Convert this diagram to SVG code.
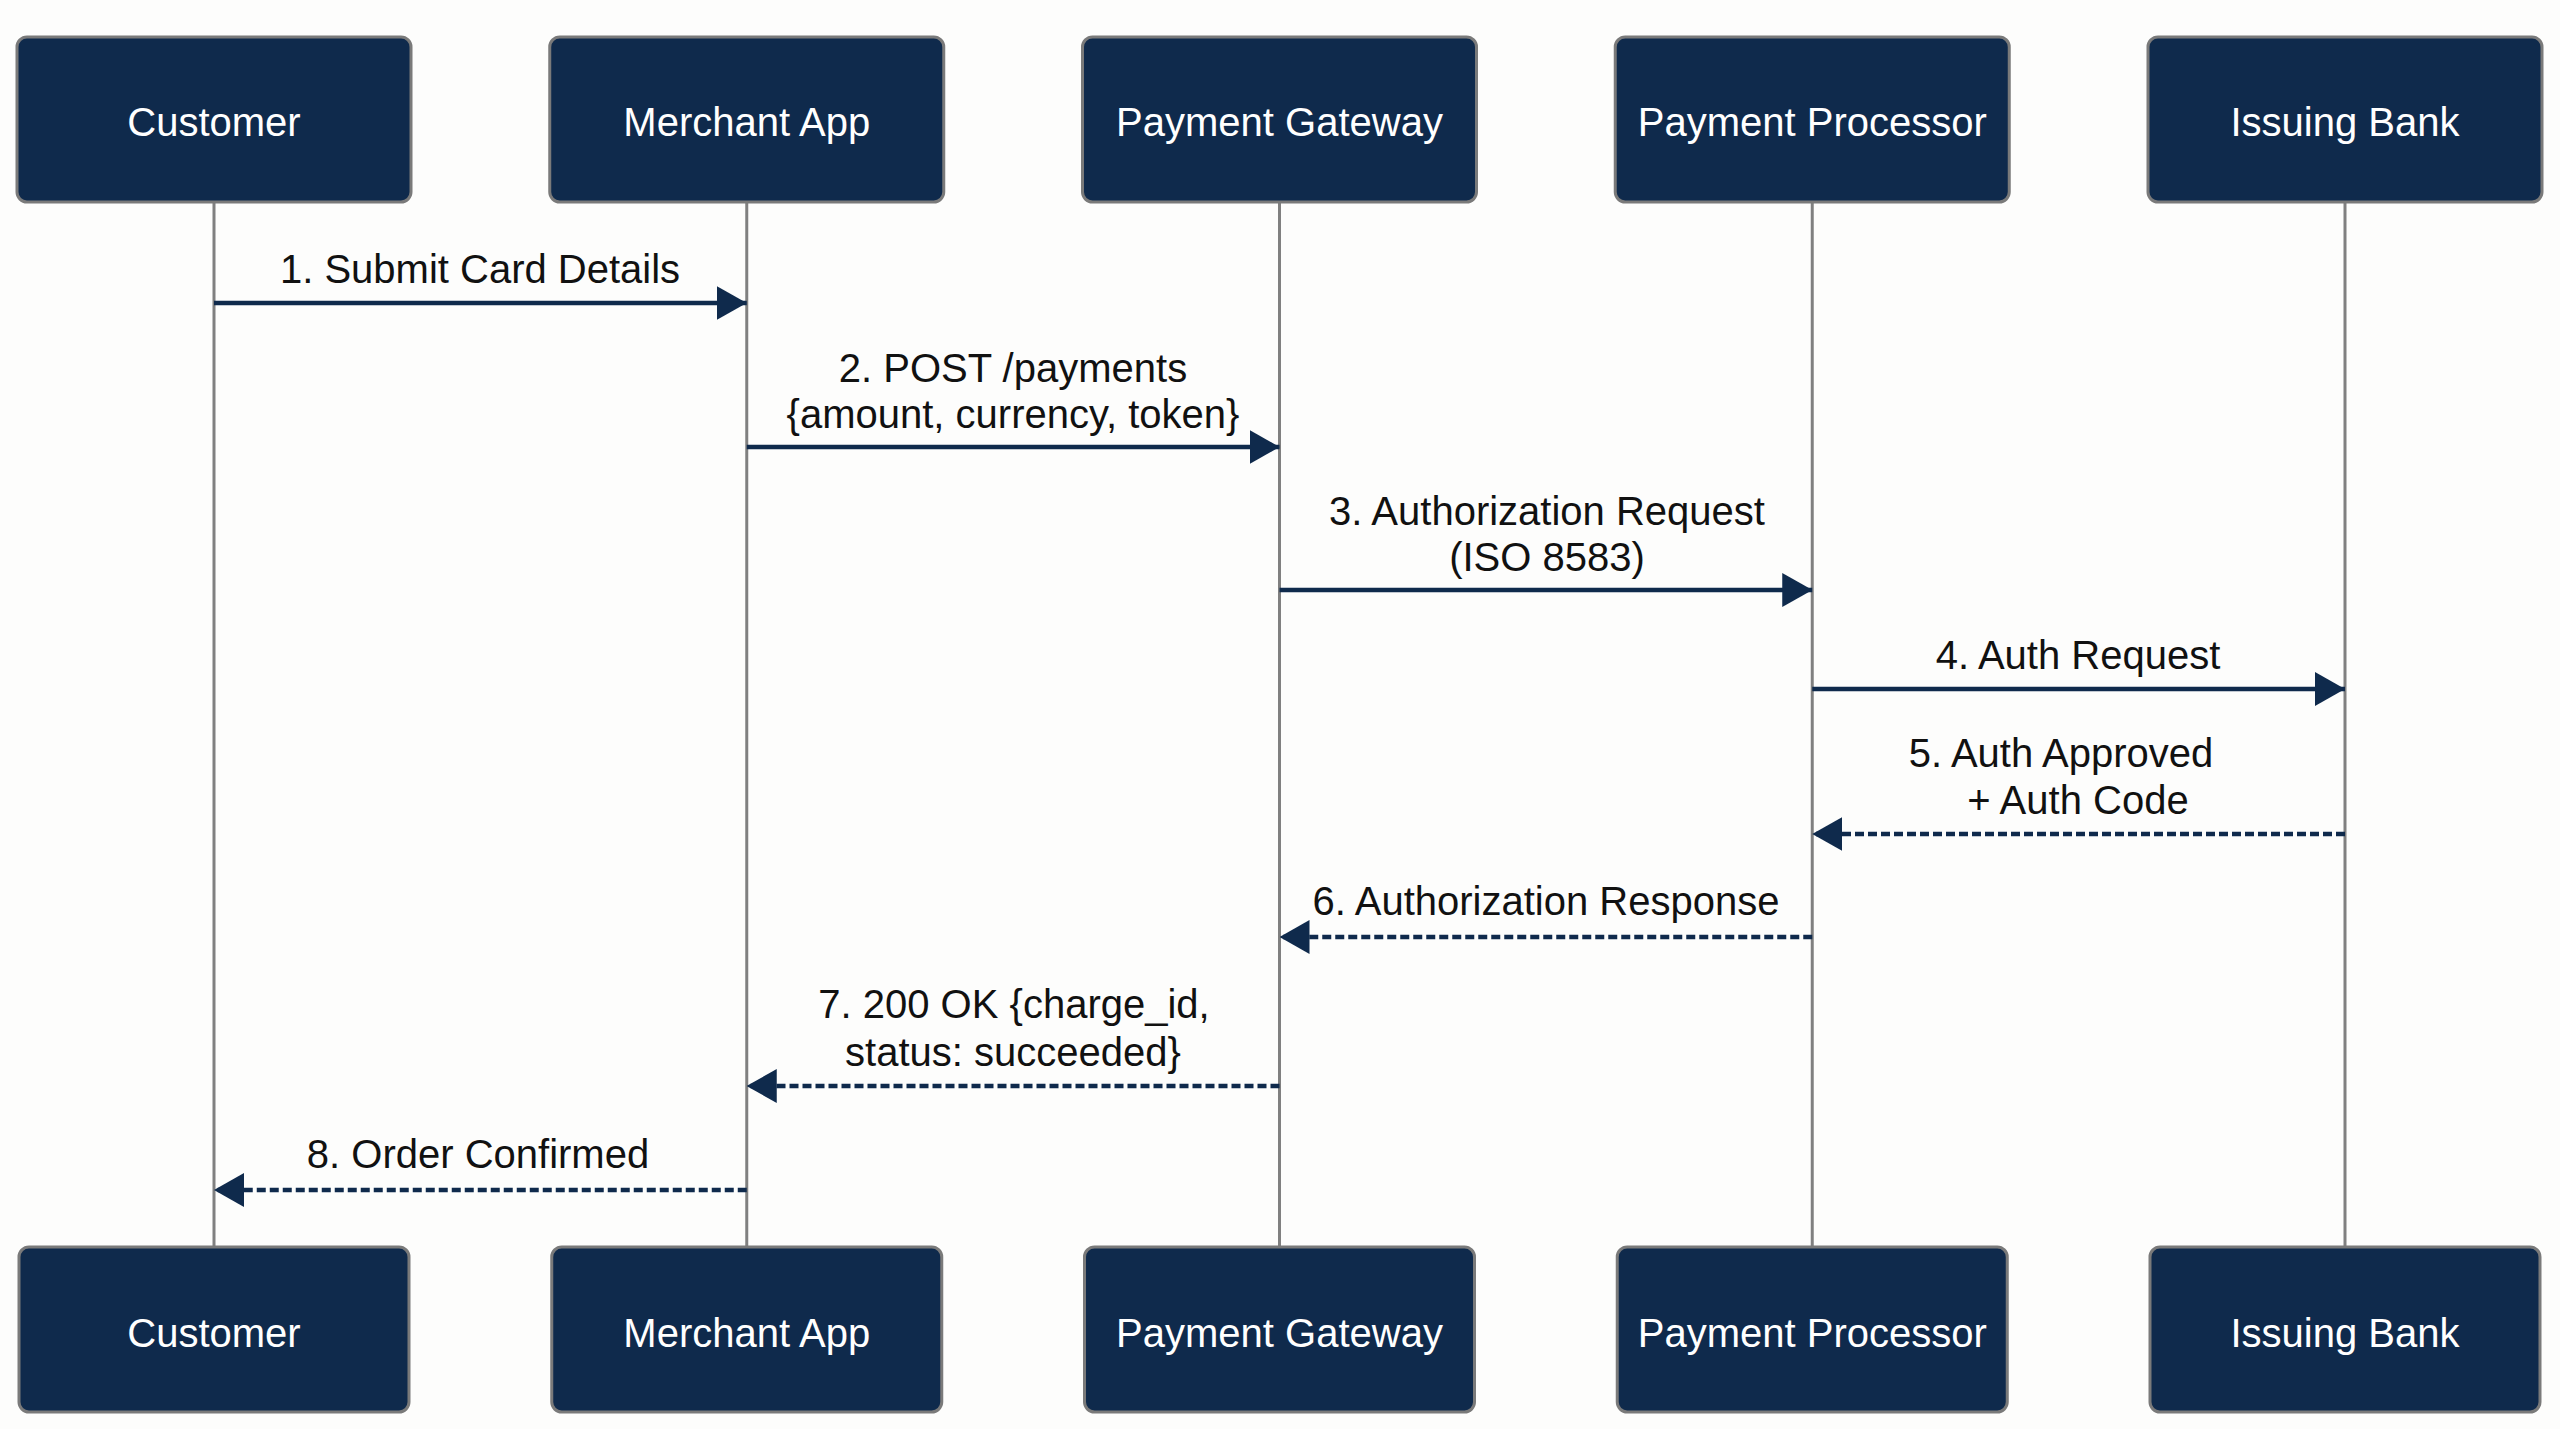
<svg xmlns="http://www.w3.org/2000/svg" width="2560" height="1429" viewBox="0 0 2560 1429">
  <style>
    .box { fill: #0f2a4c; stroke: #7a7a7a; stroke-width: 3; }
    .btxt { fill: #ffffff; font-family: "Liberation Sans", Arial, sans-serif; font-size: 40px; text-anchor: middle; }
    .life { stroke: #808080; stroke-width: 3; fill: none; }
    .msg { stroke: #0f2a4c; stroke-width: 4.5; fill: none; marker-end: url(#arrow); }
    .dash { stroke-dasharray: 9 4; }
    .lbl { fill: #111111; font-family: "Liberation Sans", Arial, sans-serif; font-size: 40px; text-anchor: middle; }
  </style>
  <defs>
    <marker id="arrow" markerUnits="userSpaceOnUse" markerWidth="30" markerHeight="34" refX="30" refY="17" orient="auto" viewBox="0 0 30 34">
      <path d="M0,0 L30,17 L0,34 Z" fill="#0f2a4c"/>
    </marker>
  </defs>
  <rect x="0" y="0" width="2560" height="1429" fill="#fdfdfc"/>

  <g id="lifelines">
    <line class="life" x1="214" y1="202" x2="214" y2="1247"/>
    <line class="life" x1="746.75" y1="202" x2="746.75" y2="1247"/>
    <line class="life" x1="1279.5" y1="202" x2="1279.5" y2="1247"/>
    <line class="life" x1="1812.25" y1="202" x2="1812.25" y2="1247"/>
    <line class="life" x1="2345" y1="202" x2="2345" y2="1247"/>
  </g>

  <g id="customer">
    <rect class="box" x="17" y="37" width="394" height="165" rx="10"/>
    <text class="btxt" x="214" y="136">Customer</text>
    <rect class="box" x="19" y="1247" width="390" height="165" rx="10"/>
    <text class="btxt" x="214" y="1347">Customer</text>
  </g>
  <g id="merchant">
    <rect class="box" x="549.75" y="37" width="394" height="165" rx="10"/>
    <text class="btxt" x="746.75" y="136">Merchant App</text>
    <rect class="box" x="551.75" y="1247" width="390" height="165" rx="10"/>
    <text class="btxt" x="746.75" y="1347">Merchant App</text>
  </g>
  <g id="gateway">
    <rect class="box" x="1082.5" y="37" width="394" height="165" rx="10"/>
    <text class="btxt" x="1279.5" y="136">Payment Gateway</text>
    <rect class="box" x="1084.5" y="1247" width="390" height="165" rx="10"/>
    <text class="btxt" x="1279.5" y="1347">Payment Gateway</text>
  </g>
  <g id="processor">
    <rect class="box" x="1615.25" y="37" width="394" height="165" rx="10"/>
    <text class="btxt" x="1812.25" y="136">Payment Processor</text>
    <rect class="box" x="1617.25" y="1247" width="390" height="165" rx="10"/>
    <text class="btxt" x="1812.25" y="1347">Payment Processor</text>
  </g>
  <g id="bank">
    <rect class="box" x="2148" y="37" width="394" height="165" rx="10"/>
    <text class="btxt" x="2345" y="136">Issuing Bank</text>
    <rect class="box" x="2150" y="1247" width="390" height="165" rx="10"/>
    <text class="btxt" x="2345" y="1347">Issuing Bank</text>
  </g>

  <g id="connectors">
    <line class="msg" x1="214" y1="303" x2="746.75" y2="303"/>
    <text class="lbl" x="480" y="283">1. Submit Card Details</text>

    <line class="msg" x1="746.75" y1="447" x2="1279.5" y2="447"/>
    <text class="lbl" x="1013" y="382">2. POST /payments</text>
    <text class="lbl" x="1013" y="428">{amount, currency, token}</text>

    <line class="msg" x1="1279.5" y1="590" x2="1812.25" y2="590"/>
    <text class="lbl" x="1547" y="525">3. Authorization Request</text>
    <text class="lbl" x="1547" y="571">(ISO 8583)</text>

    <line class="msg" x1="1812.25" y1="689" x2="2345" y2="689"/>
    <text class="lbl" x="2078" y="669">4. Auth Request</text>

    <line class="msg dash" x1="2345" y1="834" x2="1812.25" y2="834"/>
    <text class="lbl" x="2061" y="767">5. Auth Approved</text>
    <text class="lbl" x="2078" y="814">+ Auth Code</text>

    <line class="msg dash" x1="1812.25" y1="937" x2="1279.5" y2="937"/>
    <text class="lbl" x="1546" y="915">6. Authorization Response</text>

    <line class="msg dash" x1="1279.5" y1="1086" x2="746.75" y2="1086"/>
    <text class="lbl" x="1014" y="1018">7. 200 OK {charge_id,</text>
    <text class="lbl" x="1013" y="1066">status: succeeded}</text>

    <line class="msg dash" x1="746.75" y1="1190" x2="214" y2="1190"/>
    <text class="lbl" x="478" y="1168">8. Order Confirmed</text>
  </g>
</svg>
